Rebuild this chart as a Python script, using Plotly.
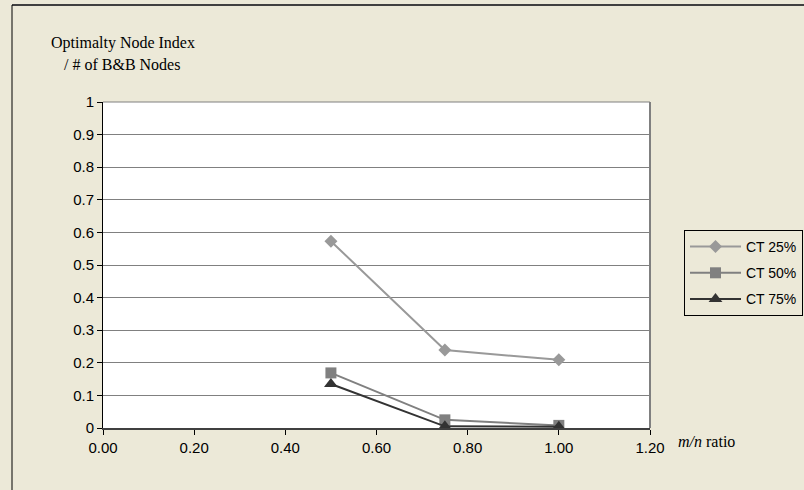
import plotly.graph_objects as go

x_vals = [0.5, 0.75, 1.0]
ct25 = [0.573, 0.239, 0.209]
ct50 = [0.169, 0.025, 0.008]
ct75 = [0.135, 0.005, 0.004]
series_names = ["CT 25%", "CT 50%", "CT 75%"]
x_ticks = [0.0, 0.2, 0.4, 0.6, 0.8, 1.0, 1.2]
y_ticks = [0, 0.1, 0.2, 0.3, 0.4, 0.5, 0.6, 0.7, 0.8, 0.9, 1]

FW, FH = 804, 490
L, R, T, B = 103, 650, 102, 428
PW, PH = FW - L, B - T          # paper area: right margin 0
def px(x):
    return (x - L) / PW
def py(y):
    return (B - y) / PH

fig = go.Figure()
styles = [
    (ct25, "#999999", "diamond", 10),
    (ct50, "#808080", "square", 11),
    (ct75, "#333333", "triangle-up", 12),
]
for i, (vals, col, sym, sz) in enumerate(styles):
    fig.add_trace(go.Scatter(
        x=x_vals, y=vals, name=series_names[i], mode="lines+markers",
        line=dict(color=col, width=2),
        marker=dict(symbol=sym, size=sz, color=col),
        legendgroup=str(i),
    ))

font_sans = "Liberation Sans, Arial, sans-serif"
font_serif = "Liberation Serif, Times New Roman, serif"

fig.update_layout(
    width=FW, height=FH,
    margin=dict(l=L, r=0, t=T, b=FH - B, autoexpand=False),
    paper_bgcolor="#ECE9D8",
    plot_bgcolor="#FFFFFF",
    showlegend=True,
    legend=dict(
        x=px(684), y=py(230), xanchor="left", yanchor="top",
        bgcolor="#ECE9D8", bordercolor="#000000", borderwidth=1,
        font=dict(family=font_sans, size=14, color="#000000"),
        traceorder="grouped", tracegroupgap=5, itemwidth=51,
    ),
    xaxis=dict(
        domain=[0, px(R)],
        range=[0, 1.2], tickvals=x_ticks, tickformat=".2f",
        showgrid=False, zeroline=False,
        showline=True, linecolor="#404040", linewidth=2,
        ticks="outside", ticklen=5, tickcolor="#000000",
        tickfont=dict(family=font_sans, size=15, color="#000000"),
    ),
    yaxis=dict(
        range=[0, 1], tickvals=y_ticks,
        showgrid=True, gridcolor="#808080", gridwidth=1,
        zeroline=False,
        showline=True, linecolor="#000000", linewidth=1,
        ticks="outside", ticklen=5, tickcolor="#000000",
        tickfont=dict(family=font_sans, size=15, color="#000000"),
    ),
)

# right border of plot area and top line
fig.add_shape(type="line", xref="x domain", yref="y domain",
              x0=1, x1=1, y0=0, y1=1, line=dict(color="#808080", width=2))
fig.add_shape(type="line", xref="x domain", yref="y domain",
              x0=0, x1=1, y0=1, y1=1, line=dict(color="#808080", width=1))
# outer chart border (top and left)
fig.add_shape(type="line", xref="paper", yref="paper",
              x0=px(12), x1=px(806), y0=py(5), y1=py(5),
              line=dict(color="#404040", width=2))
fig.add_shape(type="line", xref="paper", yref="paper",
              x0=px(12), x1=px(12), y0=py(5), y1=py(492),
              line=dict(color="#000000", width=1))

fig.add_annotation(xref="paper", yref="paper", x=px(49), y=py(43),
                   text="Optimalty Node Index", showarrow=False,
                   xanchor="left", yanchor="middle",
                   font=dict(family=font_serif, size=16, color="#000000"))
fig.add_annotation(xref="paper", yref="paper", x=px(62), y=py(64),
                   text="/ # of B&amp;B Nodes", showarrow=False,
                   xanchor="left", yanchor="middle",
                   font=dict(family=font_serif, size=16, color="#000000"))
fig.add_annotation(xref="paper", yref="paper", x=px(676), y=py(441),
                   text="<i>m/n</i> ratio", showarrow=False,
                   xanchor="left", yanchor="middle",
                   font=dict(family=font_serif, size=16, color="#000000"))

fig.write_html("out.html")
